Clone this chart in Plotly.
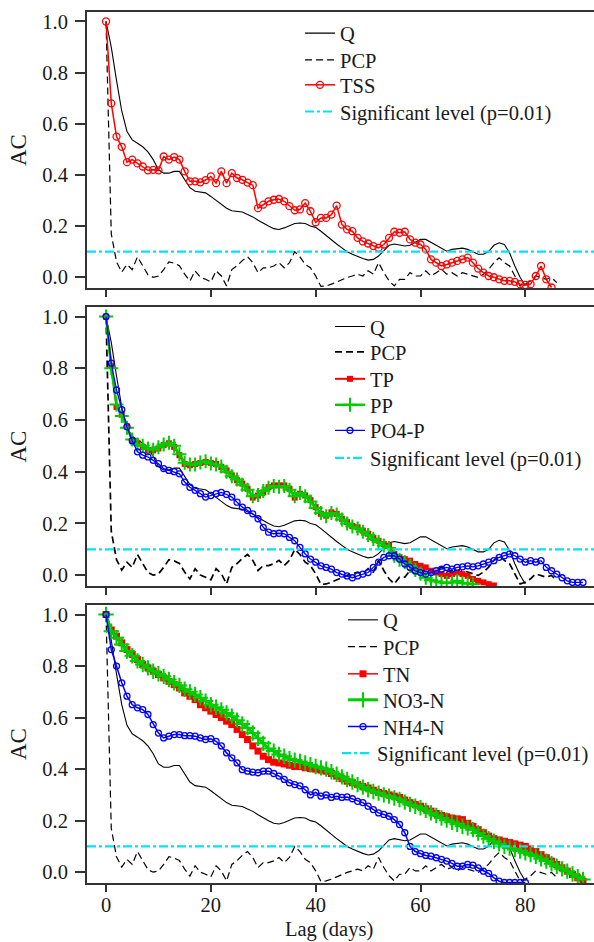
import plotly.graph_objects as go

# ---------------- data ----------------
Q = [1.0, 0.90, 0.77, 0.65, 0.57, 0.537, 0.524, 0.51, 0.49, 0.46, 0.42, 0.407, 0.407, 0.414, 0.414,
     0.38, 0.35, 0.336, 0.332, 0.33, 0.316, 0.30, 0.287, 0.27, 0.26, 0.258, 0.255, 0.245, 0.236, 0.223,
     0.21, 0.20, 0.19, 0.187, 0.193, 0.20, 0.21, 0.212, 0.21, 0.20, 0.195, 0.18, 0.163, 0.145, 0.13,
     0.115, 0.10, 0.09, 0.08, 0.073, 0.067, 0.07, 0.083, 0.106, 0.125, 0.13, 0.126, 0.122, 0.125, 0.137,
     0.148, 0.148, 0.137, 0.125, 0.112, 0.102, 0.109, 0.112, 0.114, 0.109, 0.098, 0.09, 0.09, 0.10,
     0.125, 0.135, 0.128, 0.095, 0.044, 0.0, -0.034]

PCP = [1.0, 0.17, 0.06, 0.02, 0.05, 0.03, 0.08, 0.045, 0.01, 0.0, 0.005, 0.03, 0.06, 0.055, 0.045,
       0.012, -0.015, 0.025, 0.0, -0.008, -0.018, 0.025, 0.005, -0.034, 0.03, 0.045, 0.065, 0.08, 0.057,
       0.018, 0.037, 0.037, 0.044, 0.057, 0.037, 0.057, 0.10, 0.08, 0.05, 0.037, 0.005, -0.036, -0.034,
       -0.027, -0.018, -0.008, -0.001, 0.005, 0.012, 0.005, 0.025, 0.012, 0.057, 0.018, -0.014, -0.034,
       -0.008, -0.008, 0.018, 0.005, 0.005, 0.025, 0.005, 0.018, 0.031, 0.012, 0.018, 0.005, 0.018, 0.012,
       0.005, -0.001, 0.012, 0.031, 0.057, 0.076, 0.057, 0.044, 0.005, -0.034, -0.027, -0.014, 0.005,
       -0.001, -0.008, -0.001, -0.021]

TSS = [1.0, 0.68, 0.55, 0.51, 0.45, 0.46, 0.445, 0.433, 0.418, 0.42, 0.418, 0.472, 0.46, 0.47, 0.46,
       0.414, 0.375, 0.375, 0.371, 0.38, 0.394, 0.368, 0.414, 0.368, 0.407, 0.388, 0.381, 0.37, 0.36,
       0.27, 0.284, 0.297, 0.303, 0.306, 0.297, 0.278, 0.262, 0.265, 0.29, 0.258, 0.215, 0.232, 0.232,
       0.245, 0.28, 0.206, 0.187, 0.18, 0.154, 0.14, 0.132, 0.122, 0.115, 0.128, 0.154, 0.178, 0.174,
       0.178, 0.148, 0.135, 0.128, 0.109, 0.07, 0.057, 0.044, 0.05, 0.057, 0.064, 0.07, 0.077, 0.057,
       0.034, 0.018, 0.005, 0.0, -0.008, -0.014, -0.014, -0.018, -0.027, -0.03, -0.027, 0.005, 0.044,
       -0.008, -0.04]

TP = [1.0, 0.81, 0.65, 0.62, 0.575, 0.52, 0.51, 0.496, 0.483, 0.483, 0.49, 0.503, 0.51, 0.496, 0.464,
      0.43, 0.425, 0.43, 0.434, 0.438, 0.434, 0.43, 0.418, 0.405, 0.386, 0.367, 0.354, 0.334, 0.30,
      0.308, 0.32, 0.34, 0.347, 0.347, 0.347, 0.334, 0.30, 0.315, 0.308, 0.29, 0.263, 0.237, 0.23,
      0.243, 0.237, 0.218, 0.205, 0.19, 0.185, 0.172, 0.16, 0.144, 0.133, 0.12, 0.114, 0.082, 0.069,
      0.062, 0.056, 0.043, 0.036, 0.03, 0.017, 0.01, 0.004, -0.003, 0.004, 0.01, 0.004, -0.003, -0.015,
      -0.022, -0.028, -0.035, -0.04]

PP = [1.0, 0.80, 0.66, 0.615, 0.57, 0.525, 0.505, 0.5, 0.49, 0.485, 0.495, 0.505, 0.512, 0.5, 0.468,
      0.435, 0.428, 0.428, 0.436, 0.44, 0.432, 0.428, 0.42, 0.4, 0.382, 0.37, 0.35, 0.33, 0.305,
      0.31, 0.325, 0.338, 0.345, 0.342, 0.345, 0.33, 0.305, 0.318, 0.305, 0.285, 0.26, 0.24, 0.228,
      0.24, 0.235, 0.215, 0.2, 0.188, 0.18, 0.168, 0.155, 0.14, 0.128, 0.115, 0.105, 0.075, 0.06,
      0.05, 0.035, 0.02, 0.005, -0.01, -0.02, -0.025, -0.028, -0.03, -0.028, -0.022, -0.03, -0.032,
      -0.035]

PO4P = [1.0, 0.82, 0.716, 0.64, 0.574, 0.52, 0.477, 0.464, 0.457, 0.444, 0.431, 0.412, 0.405, 0.40,
        0.392, 0.36, 0.34, 0.328, 0.315, 0.302, 0.308, 0.315, 0.32, 0.312, 0.302, 0.282, 0.263, 0.25,
        0.237, 0.218, 0.185, 0.166, 0.16, 0.162, 0.16, 0.146, 0.133, 0.107, 0.082, 0.062, 0.05, 0.036,
        0.03, 0.023, 0.01, 0.004, -0.003, -0.01, -0.003, 0.004, 0.01, 0.03, 0.05, 0.069, 0.075, 0.075,
        0.062, 0.043, 0.03, 0.017, 0.01, 0.004, 0.01, 0.017, 0.023, 0.03, 0.023, 0.03, 0.032, 0.036,
        0.032, 0.036, 0.043, 0.05, 0.056, 0.069, 0.075, 0.082, 0.075, 0.062, 0.05, 0.056, 0.05, 0.056,
        0.03, 0.017, 0.004, -0.01, -0.022, -0.028, -0.028, -0.028]

TN = [1.0, 0.94, 0.916, 0.89, 0.864, 0.845, 0.825, 0.806, 0.793, 0.78, 0.767, 0.754, 0.741, 0.728,
      0.715, 0.696, 0.683, 0.67, 0.65, 0.638, 0.625, 0.612, 0.60, 0.586, 0.573, 0.554, 0.534, 0.515,
      0.49, 0.47, 0.45, 0.437, 0.427, 0.424, 0.42, 0.415, 0.41, 0.41, 0.405, 0.402, 0.40, 0.396, 0.392,
      0.383, 0.373, 0.363, 0.353, 0.347, 0.34, 0.333, 0.327, 0.318, 0.31, 0.305, 0.30, 0.295, 0.29,
      0.28, 0.27, 0.263, 0.256, 0.246, 0.237, 0.228, 0.22, 0.215, 0.21, 0.207, 0.204, 0.19, 0.178,
      0.165, 0.153, 0.14, 0.13, 0.125, 0.12, 0.115, 0.11, 0.105, 0.10, 0.09, 0.08, 0.068, 0.056, 0.043,
      0.03, 0.017, 0.004, -0.009, -0.022, -0.035]

NO3N = [1.0, 0.935, 0.91, 0.884, 0.858, 0.84, 0.82, 0.806, 0.793, 0.78, 0.77, 0.76, 0.748, 0.735,
        0.725, 0.71, 0.70, 0.69, 0.677, 0.664, 0.65, 0.64, 0.63, 0.618, 0.605, 0.59, 0.575, 0.56, 0.54,
        0.52, 0.50, 0.48, 0.47, 0.457, 0.45, 0.44, 0.435, 0.43, 0.424, 0.417, 0.41, 0.405, 0.40, 0.39,
        0.38, 0.37, 0.36, 0.35, 0.34, 0.33, 0.32, 0.313, 0.307, 0.30, 0.295, 0.288, 0.282, 0.272,
        0.263, 0.256, 0.25, 0.24, 0.23, 0.22, 0.21, 0.202, 0.194, 0.186, 0.178, 0.172, 0.165, 0.152,
        0.14, 0.13, 0.12, 0.11, 0.10, 0.094, 0.088, 0.082, 0.075, 0.068, 0.062, 0.052, 0.043, 0.033,
        0.023, 0.013, 0.004, -0.007, -0.018, -0.028]

NH4N = [1.0, 0.864, 0.80, 0.735, 0.683, 0.65, 0.638, 0.631, 0.612, 0.573, 0.54, 0.521, 0.528, 0.534,
        0.534, 0.53, 0.53, 0.528, 0.521, 0.515, 0.518, 0.508, 0.49, 0.463, 0.444, 0.424, 0.398, 0.392,
        0.388, 0.386, 0.392, 0.392, 0.383, 0.373, 0.36, 0.347, 0.34, 0.335, 0.32, 0.30, 0.31, 0.295,
        0.30, 0.29, 0.295, 0.29, 0.292, 0.285, 0.275, 0.27, 0.256, 0.243, 0.23, 0.224, 0.217, 0.204,
        0.185, 0.153, 0.10, 0.08, 0.072, 0.065, 0.062, 0.056, 0.05, 0.043, 0.034, 0.023, 0.023, 0.03,
        0.027, 0.017, 0.004, -0.005, -0.022, -0.035, -0.04, -0.04, -0.04, -0.04, -0.04]

SIG_LEVEL = 0.1
SIG_NAME = "Significant level (p=0.01)"
X_TICKS = [0, 20, 40, 60, 80]
Y_TICKS = [0.0, 0.2, 0.4, 0.6, 0.8, 1.0]
Y_TICK_TEXT = ["0.0", "0.2", "0.4", "0.6", "0.8", "1.0"]
X_TITLE = "Lag (days)"
Y_TITLE = "AC"
X_RANGE = [-3.63, 93.1]
Y_RANGE = [-0.042, 1.037]

# ---------------- styling ----------------
FONT = "Liberation Serif, Times New Roman, Times, DejaVu Serif, serif"
TXT = "#1a1a1a"
AX = "#333333"
RED = "#FF0000"
GREEN = "#00CC00"
BLUE = "#0000FF"
CYAN = "#00E5EE"
PCP_DASH = "7px,4px"

W, H = 594, 942
ML, MT, MB = 87, 12, 59
PW = W - ML
PH = H - MT - MB  # 871

fig = go.Figure()
legends = {}
leg_count = [0]


def new_legend(text_x_px, center_y_px, right=False):
    leg_count[0] += 1
    name = "legend" if leg_count[0] == 1 else f"legend{leg_count[0]}"
    cfg = dict(
        x=(text_x_px - 39 - ML) / PW, y=(H - MB - (center_y_px - 20)) / PH,
        xanchor="left", yanchor="top", bgcolor="rgba(0,0,0,0)", borderwidth=0,
        font=dict(family=FONT, size=20.5, color=TXT))
    if right:  # keep the widest entry inside the figure (no auto-margin push)
        cfg.update(x=1.0, xanchor="right")
    legends[name] = cfg
    return name


def ax_names(i):
    return ("x", "y") if i == 1 else (f"x{i}", f"y{i}")


def lags(vals):
    return list(range(len(vals)))


def add(i, vals, name, leg, line, marker=None):
    xa, ya = ax_names(i)
    mode = "lines+markers" if marker else "lines"
    kw = dict(marker=marker) if marker else {}
    fig.add_trace(go.Scatter(x=lags(vals), y=vals, mode=mode, name=name, xaxis=xa, yaxis=ya,
                             legend=leg, line=line, **kw))


def add_sig(i, leg):
    xa, ya = ax_names(i)
    fig.add_trace(go.Scatter(x=X_RANGE, y=[SIG_LEVEL, SIG_LEVEL], mode="lines", name=SIG_NAME,
                             xaxis=xa, yaxis=ya, legend=leg,
                             line=dict(color=CYAN, width=2.2, dash="dashdot")))


# panel 1
tx, ys = 339, [33.3, 60, 85, 111.7]
add(1, Q, "Q", new_legend(tx, ys[0]), dict(color="black", width=1.1))
add(1, PCP, "PCP", new_legend(tx, ys[1]), dict(color="black", width=1.2, dash=PCP_DASH))
add(1, TSS, "TSS", new_legend(tx, ys[2]), dict(color=RED, width=1.5),
    dict(symbol="circle-open", size=7, color=RED, line=dict(width=1.3)))
add_sig(1, new_legend(tx, ys[3]))

# panel 2
tx, ys = 369, [326.7, 352, 379, 405, 430.5, 458]
add(2, Q, "Q", new_legend(tx, ys[0]), dict(color="black", width=1.1))
add(2, PCP, "PCP", new_legend(tx, ys[1]), dict(color="black", width=1.7, dash=PCP_DASH))
add(2, TP, "TP", new_legend(tx, ys[2]), dict(color=RED, width=2),
    dict(symbol="square", size=6, color=RED))
add(2, PP, "PP", new_legend(tx, ys[3]), dict(color=GREEN, width=2.5),
    dict(symbol="cross-thin-open", size=10, color=GREEN, line=dict(width=2, color=GREEN)))
add(2, PO4P, "PO4-P", new_legend(tx, ys[4]), dict(color=BLUE, width=1.3),
    dict(symbol="circle-open", size=6, color=BLUE, line=dict(width=1.3)))
add_sig(2, new_legend(tx, ys[5]))

# panel 3
tx, ys = 382, [620, 646.7, 674, 700, 726.7, 753.3]
add(3, Q, "Q", new_legend(tx, ys[0]), dict(color="black", width=1.1))
add(3, PCP, "PCP", new_legend(tx, ys[1]), dict(color="black", width=1.2, dash=PCP_DASH))
add(3, TN, "TN", new_legend(tx, ys[2]), dict(color=RED, width=1.5),
    dict(symbol="square", size=7, color=RED))
add(3, NO3N, "NO3-N", new_legend(tx, ys[3]), dict(color=GREEN, width=3),
    dict(symbol="cross-thin-open", size=11, color=GREEN, line=dict(width=2, color=GREEN)))
add(3, NH4N, "NH4-N", new_legend(tx, ys[4]), dict(color=BLUE, width=1.5),
    dict(symbol="circle-open", size=6, color=BLUE, line=dict(width=1.3)))
add_sig(3, new_legend(tx, ys[5], right=True))

# ---------------- layout ----------------


def dom(top_px, bot_px):
    return [(H - MB - bot_px) / PH, (H - MB - top_px) / PH]


tickfont = dict(family=FONT, size=20.5, color=TXT)


def xaxis_cfg(anchor, labels):
    return dict(domain=[0, 1], range=X_RANGE, anchor=anchor, tickmode="array", tickvals=X_TICKS,
                showticklabels=labels, ticks="outside", ticklen=7, tickwidth=1.5, tickcolor=AX,
                ticklabelstandoff=-5, automargin=False,
                showline=True, linecolor=AX, linewidth=2, mirror=True, showgrid=False, zeroline=False,
                tickfont=tickfont)


def yaxis_cfg(anchor, domain):
    return dict(domain=domain, range=Y_RANGE, anchor=anchor, tickmode="array", tickvals=Y_TICKS,
                ticktext=Y_TICK_TEXT, ticks="outside", ticklen=10, tickwidth=1.5, tickcolor=AX,
                ticklabelstandoff=3, automargin=False,
                showline=True, linecolor=AX, linewidth=2, mirror=False, showgrid=False, zeroline=False,
                tickfont=tickfont,
                title=dict(text=Y_TITLE, font=dict(family=FONT, size=23, color=TXT), standoff=9))


fig.update_layout(
    width=W, height=H,
    margin=dict(l=ML, r=0, t=MT, b=MB, autoexpand=False),
    paper_bgcolor="white", plot_bgcolor="white",
    showlegend=True,
    xaxis=xaxis_cfg("y", False),
    yaxis=yaxis_cfg("x", dom(12, 288)),
    xaxis2=xaxis_cfg("y2", False),
    yaxis2=yaxis_cfg("x2", dom(307, 586)),
    xaxis3=xaxis_cfg("y3", True),
    yaxis3=yaxis_cfg("x3", dom(605, 883)),
    annotations=[dict(text=X_TITLE, xref="paper", yref="paper",
                      x=(329 - ML) / PW, y=(H - MB - 929) / PH, xanchor="center", yanchor="middle",
                      showarrow=False, font=dict(family=FONT, size=20.5, color=TXT))],
    **legends,
)

fig.write_html("out.html", config={"displayModeBar": False},
               post_script="document.body.style.margin='0';document.body.style.overflow='hidden';")
